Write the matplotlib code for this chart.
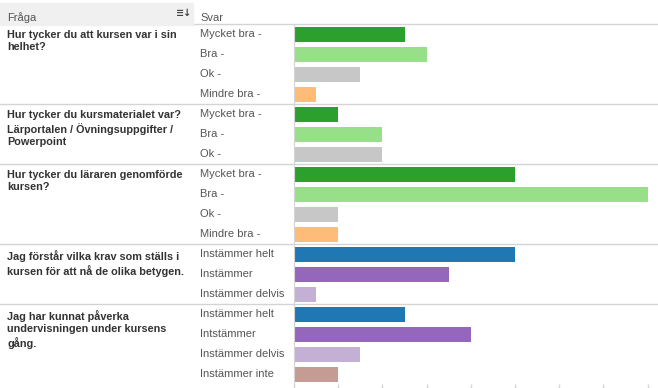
import matplotlib.pyplot as plt
from matplotlib.patches import Rectangle

plt.rcParams['font.family'] = ['Liberation Sans', 'DejaVu Sans']

# Questions with their answer categories and counts
questions = [
    "Hur tycker du att kursen var i sin\nhelhet?",
    "Hur tycker du kursmaterialet var?\nLärportalen / Övningsuppgifter /\nPowerpoint",
    "Hur tycker du läraren genomförde\nkursen?",
    "Jag förstår vilka krav som ställs i\nkursen för att nå de olika betygen.",
    "Jag har kunnat påverka\nundervisningen under kursens\ngång.",
]
answers = [
    ["Mycket bra -", "Bra -", "Ok -", "Mindre bra -"],
    ["Mycket bra -", "Bra -", "Ok -"],
    ["Mycket bra -", "Bra -", "Ok -", "Mindre bra -"],
    ["Instämmer helt", "Instämmer", "Instämmer delvis"],
    ["Instämmer helt", "Intstämmer", "Instämmer delvis", "Instämmer inte"],
]
counts = [
    [5, 6, 3, 1],
    [2, 4, 4],
    [10, 16, 2, 2],
    [10, 7, 1],
    [5, 8, 3, 2],
]
colors = [
    ["#2ca02c", "#98df8a", "#c7c7c7", "#ffbb78"],
    ["#2ca02c", "#98df8a", "#c7c7c7"],
    ["#2ca02c", "#98df8a", "#c7c7c7", "#ffbb78"],
    ["#1f77b4", "#9467bd", "#c5b0d5"],
    ["#1f77b4", "#9467bd", "#c5b0d5", "#c49c94"],
]

W, H = 658, 388
fig = plt.figure(figsize=(W / 100, H / 100), dpi=100)

# bar area in pixels
x0, x1 = 294, 658
y_top, y_bot = 24, 384
ax = fig.add_axes([x0 / W, (H - y_bot) / H, (x1 - x0) / W, (y_bot - y_top) / H])

n_rows = sum(len(a) for a in answers)
px_per_unit = 22.1
ax.set_xlim(0, (x1 - x0) / px_per_unit)
ax.set_ylim(n_rows - 0.5, -0.5)

def px_to_ax(px):
    return (px - x0) / (x1 - x0)

sep_color = "#d4d4d4"
row = 0
for q, ans, cnt, col in zip(questions, answers, counts, colors):
    ys = list(range(row, row + len(ans)))
    ax.barh(ys, cnt, height=0.75, color=col, left=0)
    for y, a in zip(ys, ans):
        ax.text(px_to_ax(200), y, a, transform=ax.get_yaxis_transform(),
                ha='left', va='center', fontsize=8, color='#555555', clip_on=False)
    ax.text(px_to_ax(7), row - 0.2, q, transform=ax.get_yaxis_transform(),
            ha='left', va='top', fontsize=7.8, fontweight='bold', color='#333333',
            linespacing=1.3, clip_on=False)
    row += len(ans)
    if row < n_rows:
        ax.axhline(row - 0.5, xmin=px_to_ax(0), xmax=1, color=sep_color,
                   lw=1, clip_on=False)

# header line at top
ax.axhline(-0.5, xmin=px_to_ax(0), xmax=1, color=sep_color, lw=1, clip_on=False)

for s in ['top', 'right', 'bottom']:
    ax.spines[s].set_visible(False)
ax.spines['left'].set_color(sep_color)
ax.set_yticks([])
ax.set_xticks(range(0, 17, 2))
ax.set_xticklabels([])
ax.tick_params(axis='x', length=4, color=sep_color, width=1)

# header
fig.patches.append(Rectangle((0, (H - 25) / H), 193 / W, 22 / H,
                             transform=fig.transFigure, color='#f0f0f0', zorder=0))
fig.text(7 / W, (H - 18) / H, "Fråga", fontsize=8, color='#555555', va='center')
fig.text(200 / W, (H - 18) / H, "Svar", fontsize=8, color='#555555', va='center')
fig.text(184 / W, (H - 13) / H, "≡↓", fontsize=7, color='#444444', va='center',
         ha='center', fontweight='bold', family=['DejaVu Sans'])

fig.savefig("out.png", dpi=100)
